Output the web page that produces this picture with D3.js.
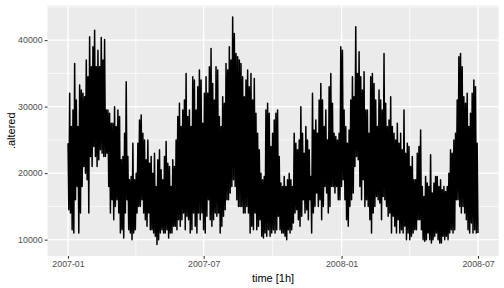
<!DOCTYPE html>
<html lang="en">
<head>
<meta charset="UTF-8">
<title>altered</title>
<script src="https://cdn.jsdelivr.net/npm/d3@7"></script>
<style>
  body { margin: 0; background: #fff; }
  text { font-family: "Liberation Sans", Arial, sans-serif; }
</style>
</head>
<body>
<svg width="504" height="288"></svg>
<script>
// hourly series 2007-01-01 .. 2008-06-30, read off the picture as
// successive peaks / troughs (one pair every ~2.2 days)
var startTime = Date.UTC(2007, 0, 1, 0);
var endTime = Date.UTC(2008, 5, 30, 23);

var highs = [
  24500,32000,27000,29500,36500,31000,27000,33250,32500,32000,
  31500,37000,34500,40500,36000,39000,41500,36000,38500,36000,
  40400,37000,40100,29500,29500,29000,27500,27500,30000,27000,
  29500,28500,22000,22500,26000,33750,22500,
  19000,19500,24500,19000,20000,24500,28000,28750,26000,25000,
  22000,25000,21500,22500,20000,23000,18000,22000,23500,20500,
  19000,22500,24750,21500,21000,18000,22000,21000,25000,28500,
  30500,27000,29500,31000,35000,28500,29500,27000,34500,34000,
  29500,33000,
  35500,34000,27500,32000,34500,32000,36000,38750,33500,31000,
  36000,35500,28500,27000,31500,30500,36500,35500,39000,37000,
  43500,41000,38000,37500,37000,36500,34500,31500,34000,35500,
  33000,35000,31000,34250,29000,26000,23500,20000,19000,19500,
  29500,30500,
  29000,24000,26000,28000,29000,29500,22500,18500,18000,19500,
  18000,19000,20000,19000,18000,26000,24500,23500,25000,30000,
  26000,23000,27000,25000,23500,19500,32000,26500,28000,26000,
  31000,33500,31000,27000,29500,25000,33000,35000,30500,26000,
  25500,25000,
  26000,39000,38500,29500,27000,24500,26500,31000,34500,31500,
  42000,35000,38250,34500,32500,35250,29500,29500,26000,34500,
  35000,33500,31000,27000,32500,31000,29500,38000,30500,27000,
  28000,31500,27000,26000,25000,27500,24500,26000,23500,29500,
  23000,24500,
  24000,21000,22500,19000,19000,23000,24000,26500,18000,16500,
  19500,18500,18000,22750,17000,18500,19500,19500,18000,19000,
  17500,18000,17250,18000,20000,23500,23000,25000,26000,31000,
  37500,38000,36000,31500,30500,32000,27000,29000,32000,34000,
  33000,24500
];

var lows = [
  14500,14000,11500,11000,16000,18000,11000,14000,18000,21000,
  20000,19000,14000,22500,21000,24000,22500,21000,22000,23500,
  23000,22500,22500,23000,18000,14000,16000,13000,15000,16000,
  14000,11000,11500,10250,14000,16000,11500,
  11000,10000,11000,11500,14000,15000,15000,16000,14000,13000,
  12000,14000,11500,11500,11000,10500,9250,10000,11000,11500,
  11000,11000,11500,10250,11000,11000,12000,12000,11500,13000,
  12000,13000,14000,11500,13500,13000,11000,11500,14000,12000,
  11000,14000,
  13000,14000,11500,11000,13500,16000,13000,12000,13000,14000,
  13500,14000,11000,12000,13500,14500,16000,16000,17000,18000,
  19000,18000,16000,15000,15000,15000,14000,14000,15000,14000,
  11000,12000,11500,14000,11500,12000,13000,10500,10250,11000,
  10500,11500,
  10500,11000,11500,11000,11500,13500,11500,11000,11000,10500,
  10000,11500,11000,11500,12500,14000,14500,13000,12000,13500,
  16000,14000,14500,13000,16000,11000,14000,15000,17000,15000,
  16000,13000,15000,18000,17000,14000,15000,18000,18000,17000,
  18000,16000,
  16000,18000,19000,16000,13000,12000,15000,16000,17000,21000,
  22500,22000,18000,16000,19000,15000,16000,15000,13000,11000,
  14000,15000,16500,16000,15500,13000,16500,16000,15000,13500,
  14000,11000,13500,12000,11000,13000,11000,11500,11000,12000,
  10000,11000,
  10000,10500,11000,11500,11500,13000,13000,11500,10000,9750,
  10000,11000,10000,9500,10000,10500,11000,10000,9500,9500,
  10500,10000,10500,10000,11000,11500,11000,11500,16000,16000,
  15000,14000,15000,14000,13000,11500,11000,12500,11000,11500,
  11000,11000
];

var xTickLabels = ["2007-01", "2007-07", "2008-01", "2008-07"];
var yTicks = [10000, 20000, 30000, 40000];
var yMinor = [15000, 25000, 35000, 45000];

var panelLeft = 47.5, panelRight = 498.5, panelTop = 5.5, panelBottom = 256;

// one vertex per peak/trough, evenly spread over the time span
var half = (endTime - startTime) / (2 * highs.length - 1);
var series = [];
highs.forEach(function (h, i) {
  series.push({t: new Date(startTime + 2 * i * half), v: h});
  series.push({t: new Date(startTime + (2 * i + 1) * half), v: lows[i]});
});

var tPad = (endTime - startTime) * 0.05;
var x = d3.scaleUtc()
  .domain([new Date(startTime - tPad), new Date(endTime + tPad)])
  .range([panelLeft, panelRight]);

var vExt = d3.extent(series, d => d.v);
var vPad = (vExt[1] - vExt[0]) * 0.05;
var y = d3.scaleLinear()
  .domain([vExt[0] - vPad, vExt[1] + vPad])
  .range([panelBottom, panelTop]);

var parseMonth = d3.utcParse("%Y-%m");
var xTicks = xTickLabels.map(parseMonth);
var xMinor = d3.pairs(xTicks).map(p => new Date((+p[0] + +p[1]) / 2));

var svg = d3.select("svg");

svg.append("rect")
  .attr("x", panelLeft).attr("y", panelTop)
  .attr("width", panelRight - panelLeft).attr("height", panelBottom - panelTop)
  .attr("fill", "#EBEBEB");

var grid = svg.append("g");
grid.selectAll(".ym").data(yMinor.filter(v => v <= y.domain()[1])).enter().append("line")
  .attr("x1", panelLeft).attr("x2", panelRight)
  .attr("y1", d => y(d)).attr("y2", d => y(d))
  .attr("stroke", "#fff").attr("stroke-width", 0.7);
grid.selectAll(".xm").data(xMinor).enter().append("line")
  .attr("y1", panelTop).attr("y2", panelBottom)
  .attr("x1", d => x(d)).attr("x2", d => x(d))
  .attr("stroke", "#fff").attr("stroke-width", 0.7);
grid.selectAll(".yM").data(yTicks).enter().append("line")
  .attr("x1", panelLeft).attr("x2", panelRight)
  .attr("y1", d => y(d)).attr("y2", d => y(d))
  .attr("stroke", "#fff").attr("stroke-width", 1.4);
grid.selectAll(".xM").data(xTicks).enter().append("line")
  .attr("y1", panelTop).attr("y2", panelBottom)
  .attr("x1", d => x(d)).attr("x2", d => x(d))
  .attr("stroke", "#fff").attr("stroke-width", 1.4);

var line = d3.line()
  .x(d => x(d.t))
  .y(d => y(d.v));

svg.append("path")
  .datum(series)
  .attr("fill", "none")
  .attr("stroke", "#000")
  .attr("stroke-width", 1.5)
  .attr("stroke-linejoin", "round")
  .attr("d", line);

// axes
var yAxis = svg.append("g").attr("transform", "translate(" + panelLeft + ",0)")
  .call(d3.axisLeft(y).tickValues(yTicks).tickSize(2.75).tickPadding(2.2).tickFormat(d3.format("d")));
var xAxis = svg.append("g").attr("transform", "translate(0," + panelBottom + ")")
  .call(d3.axisBottom(x).tickValues(xTicks).tickSize(2.75).tickPadding(2.2).tickFormat(d3.utcFormat("%Y-%m")));

[yAxis, xAxis].forEach(function (g) {
  g.select(".domain").remove();
  g.selectAll(".tick line").attr("stroke", "#333333").attr("stroke-width", 1.07);
  g.selectAll(".tick text").attr("fill", "#4D4D4D")
    .style("font-size", "8.8px").style("font-family", "'Liberation Sans', Arial, sans-serif");
});

svg.append("text")
  .attr("x", (panelLeft + panelRight) / 2).attr("y", 282)
  .attr("text-anchor", "middle")
  .style("font-size", "11px")
  .text("time [1h]");

svg.append("text")
  .attr("transform", "translate(15," + (panelTop + panelBottom) / 2 + ") rotate(-90)")
  .attr("text-anchor", "middle")
  .style("font-size", "11px")
  .text(".altered");
</script>
</body>
</html>
